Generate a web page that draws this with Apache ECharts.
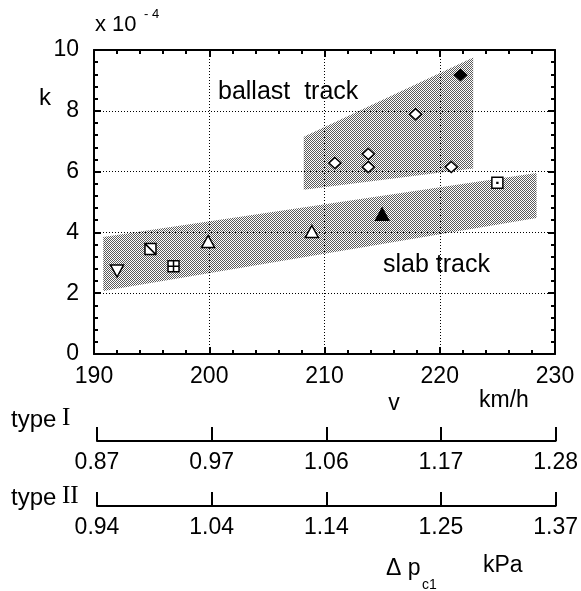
<!DOCTYPE html>
<html>
<head>
<meta charset="utf-8">
<script src="https://cdn.jsdelivr.net/npm/echarts@6/dist/echarts.min.js"></script>
<style>html,body{margin:0;background:#fff}#main{width:581px;height:591px}</style>
</head>
<body>
<div id="main"></div>
<script>
// axis scales
const vMin = 190, vMax = 230, vStep = 10;
const kMin = 0, kMax = 10, kStep = 2;
const typeOneLabels = ['0.87', '0.97', '1.06', '1.17', '1.28'];
const typeTwoLabels = ['0.94', '1.04', '1.14', '1.25', '1.37'];

// shaded bands (v, k)
const ballastV = [208.2, 222.9, 222.9, 208.2];
const ballastK = [7.15, 9.75, 6.1, 5.4];
const slabV = [190.8, 228.4, 228.4, 190.8];
const slabK = [3.85, 5.95, 4.47, 2.07];

// measured points, k in 1e-4
const triDownV = [192.0];            const triDownK = [2.73];
const diagSqV = [194.9];             const diagSqK = [3.45];
const crossSqV = [196.9];            const crossSqK = [2.89];
const openTriV = [199.9, 208.9];     const openTriK = [3.7, 4.03];
const fullTriV = [215.0];            const fullTriK = [4.6];
const openSqV = [225.0];             const openSqK = [5.63];
const openDiaV = [210.9, 213.8, 213.8, 217.9, 221.0];
const openDiaK = [6.28, 6.58, 6.15, 7.89, 6.15];
const fullDiaV = [221.8];            const fullDiaK = [9.18];

const FONT = 'Liberation Sans, Arial, sans-serif';

// halftone fill
const dots = document.createElement('canvas');
dots.width = 2; dots.height = 2;
const dc = dots.getContext('2d');
dc.fillStyle = '#fff'; dc.fillRect(0, 0, 2, 2);
dc.fillStyle = '#5a5a5a'; dc.fillRect(0, 0, 1, 1); dc.fillRect(1, 1, 1, 1);

const pts = (vs, ks) => vs.map((v, i) => [v, ks[i]]);

function band(vs, ks) {
  return {
    type: 'custom', z: 0, silent: true,
    xAxisIndex: 0, yAxisIndex: 0,
    data: [[210, 5]],
    renderItem: (params, api) => ({
      type: 'polygon',
      shape: { points: vs.map((v, i) => api.coord([v, ks[i]])) },
      style: { fill: { image: dots, repeat: 'repeat' } }
    })
  };
}

function marks(vs, ks, symbol, size, fill, rotate) {
  return {
    type: 'scatter', z: 3,
    xAxisIndex: 0, yAxisIndex: 0,
    data: pts(vs, ks),
    symbol: symbol,
    symbolSize: size,
    symbolRotate: rotate || 0,
    itemStyle: { color: fill, borderColor: '#000', borderWidth: 1.5, opacity: 1 }
  };
}

const axisLine = { show: true, onZero: false, lineStyle: { color: '#000', width: 2 } };
const tick = { show: true, inside: true, length: 7, lineStyle: { color: '#000', width: 2 } };
const minor = { show: true, splitNumber: 5, length: 4, lineStyle: { color: '#000', width: 2 } };
const label = { color: '#000', fontSize: 23, fontFamily: FONT };

function pressureAxis(grid, labels) {
  return {
    gridIndex: grid, type: 'category', data: labels, boundaryGap: false,
    axisLine: axisLine,
    axisTick: { show: true, inside: true, length: 14, interval: 0, lineStyle: { color: '#000', width: 2 } },
    axisLabel: Object.assign({ interval: 0, margin: 10 }, label),
    splitLine: { show: false }
  };
}

function txt(text, x, y, size, family, align) {
  return {
    type: 'text', x: x, y: y,
    style: { text: text, font: size + 'px ' + (family || FONT), fill: '#000',
             textAlign: align || 'left', textVerticalAlign: 'middle' }
  };
}

const chart = echarts.init(document.getElementById('main'));
chart.setOption({
  animation: false,
  grid: [
    { left: 94, right: 26, top: 50, bottom: 237 },
    { left: 97, right: 22, top: 427, height: 14 },
    { left: 97, right: 22, top: 492, height: 14 }
  ],
  xAxis: [
    {
      gridIndex: 0, type: 'value', min: vMin, max: vMax, interval: vStep, z: 1,
      axisLine: axisLine, axisTick: tick, minorTick: minor,
      axisLabel: Object.assign({ margin: 11 }, label),
      splitLine: { show: true, lineStyle: { color: '#000', width: 1, type: [1, 2] } }
    },
    {
      gridIndex: 0, type: 'value', position: 'top', min: vMin, max: vMax, interval: vStep, z: 1,
      axisLine: axisLine, axisTick: tick, minorTick: minor,
      axisLabel: { show: false }, splitLine: { show: false }
    },
    pressureAxis(1, typeOneLabels),
    pressureAxis(2, typeTwoLabels)
  ],
  yAxis: [
    {
      gridIndex: 0, type: 'value', min: kMin, max: kMax, interval: kStep, z: 1,
      axisLine: axisLine, axisTick: tick, minorTick: minor,
      axisLabel: Object.assign({ margin: 15 }, label),
      splitLine: { show: true, lineStyle: { color: '#000', width: 1, type: [1, 2] } }
    },
    {
      gridIndex: 0, type: 'value', position: 'right', min: kMin, max: kMax, interval: kStep, z: 1,
      axisLine: axisLine, axisTick: tick, minorTick: minor,
      axisLabel: { show: false }, splitLine: { show: false }
    },
    { gridIndex: 1, type: 'value', show: false },
    { gridIndex: 2, type: 'value', show: false }
  ],
  graphic: [
    txt('x 10', 95, 25, 22),
    txt('- 4', 144, 14, 13),
    txt('k', 45, 98, 24, FONT, 'center'),
    txt('ballast  track', 218, 92, 25),
    txt('slab track', 383, 265, 25),
    txt('v', 394, 404, 23, FONT, 'center'),
    txt('km/h', 479, 401, 23),
    txt('type', 11, 420, 24),
    txt('I', 62, 418, 25, 'Liberation Serif, serif'),
    txt('type', 11, 498, 24),
    txt('II', 62, 496, 25, 'Liberation Serif, serif'),
    txt('\u0394 p', 386, 569, 23),
    txt('c1', 422, 585, 14),
    txt('kPa', 483, 566, 23)
  ],
  series: [
    band(ballastV, ballastK),
    band(slabV, slabK),
    marks(triDownV, triDownK, 'triangle', [13, 12], '#fff', 180),
    marks(diagSqV, diagSqK, 'path://M0,0L10,0L10,10L0,10ZM0,0L10,10', 11, '#fff'),
    marks(crossSqV, crossSqK, 'path://M0,0L10,0L10,10L0,10ZM5,0L5,10M0,5L10,5', 11, '#fff'),
    marks(openTriV, openTriK, 'triangle', [13, 12], '#fff'),
    marks(fullTriV, fullTriK, 'triangle', [13, 12], '#000'),
    marks(openSqV, openSqK, 'path://M0,0L10,0L10,10L0,10ZM4.6,4.6L5.4,4.6L5.4,5.4L4.6,5.4Z', 11, '#fff'),
    marks(openDiaV, openDiaK, 'diamond', [12, 11], '#fff'),
    marks(fullDiaV, fullDiaK, 'diamond', [12, 11], '#000')
  ]
});
</script>
</body>
</html>
